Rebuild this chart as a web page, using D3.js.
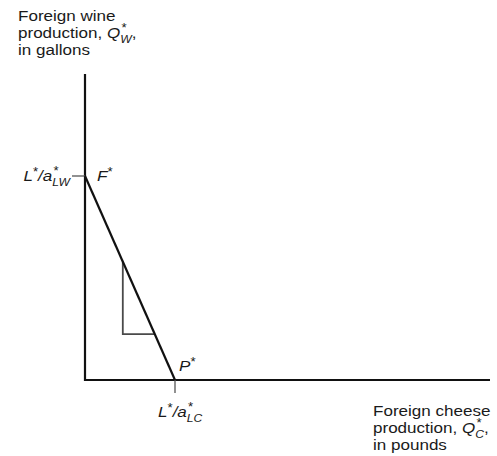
<!DOCTYPE html>
<html>
<head>
<meta charset="utf-8">
<script src="https://cdn.jsdelivr.net/npm/d3@7"></script>
<style>
  body { margin: 0; background: #fff; }
  svg text { font-family: "Liberation Sans", Arial, sans-serif; fill: #1a1a1a; }
</style>
</head>
<body>
<div id="chart"></div>
<script>
(function () {

    // foreign PPF, both intercepts scaled to 1 (L*/a*_LC on x, L*/a*_LW on y)
    var axisMax = [4.5, 1.5];
    var ppf = [[0, 1], [1, 0]];
    // slope triangle under the line
    var triangle = [[0.42, 0.58], [0.42, 0.225], [0.775, 0.225]];

    var yTitle = [
        [{ t: 'Foreign wine' }],
        [{ t: 'production, ' }, { t: 'Q', i: true, sub: 'W', sup: '*' }, { t: ',' }],
        [{ t: 'in gallons' }]
    ];
    var xTitle = [
        [{ t: 'Foreign cheese' }],
        [{ t: 'production, ' }, { t: 'Q', i: true, sub: 'C', sup: '*' }, { t: ',' }],
        [{ t: 'in pounds' }]
    ];
    var yTickLabel = [{ t: 'L', i: true, sup: '*' }, { t: '/a', i: true, sub: 'LW', sup: '*' }];
    var xTickLabel = [{ t: 'L', i: true, sup: '*' }, { t: '/a', i: true, sub: 'LC', sup: '*' }];
    var pointLabels = [
        { name: 'F', at: ppf[0] },
        { name: 'P', at: ppf[1] }
    ];

    var width = 497, height = 456;

    var svg = d3.select('#chart')
        .append('svg')
        .attr('width', width)
        .attr('height', height);

    var x = d3.scaleLinear().domain([0, axisMax[0]]).range([85, 490]);
    var y = d3.scaleLinear().domain([0, axisMax[1]]).range([380, 74]);

    var line = d3.line()
        .x(d => x(d[0]))
        .y(d => y(d[1]));

    // axes
    svg.append('path')
        .attr('d', line([[0, axisMax[1]], [0, 0], [axisMax[0], 0]]))
        .attr('fill', 'none')
        .attr('stroke', '#111')
        .attr('stroke-width', 2.2);

    // intercept ticks
    svg.append('line')
        .attr('x1', x(0) - 13).attr('x2', x(0))
        .attr('y1', y(ppf[0][1])).attr('y2', y(ppf[0][1]))
        .attr('stroke', '#555').attr('stroke-width', 1.3);

    svg.append('line')
        .attr('x1', x(ppf[1][0])).attr('x2', x(ppf[1][0]))
        .attr('y1', y(0)).attr('y2', y(0) + 13)
        .attr('stroke', '#555').attr('stroke-width', 1.3);

    // triangle
    svg.append('path')
        .attr('d', line(triangle))
        .attr('fill', 'none')
        .attr('stroke', '#4a4a4a')
        .attr('stroke-width', 1.8);

    // PPF
    svg.append('path')
        .attr('d', line(ppf))
        .attr('fill', 'none')
        .attr('stroke', '#111')
        .attr('stroke-width', 2.2);

    // rich text: sub/sup stacked after a part, offsets carried to the next tspan
    var rich = function (px, py, parts, anchor) {
        var t = svg.append('text')
            .attr('transform', 'translate(' + px + ',' + py + ') scale(1.1,1)')
            .attr('font-size', 15.5)
            .attr('text-anchor', anchor || 'start');

        var shift = 0, dxNext = 0;

        parts.forEach(p => {
            t.append('tspan')
                .attr('font-style', p.i ? 'italic' : 'normal')
                .attr('dx', dxNext || null)
                .attr('dy', -shift || null)
                .text(p.t);
            shift = 0;
            dxNext = 0;

            var subLen = 0;
            if (p.sub) {
                var s = t.append('tspan')
                    .attr('dy', 4.5)
                    .attr('font-size', 11)
                    .attr('font-style', 'italic')
                    .text(p.sub);
                subLen = s.node().getComputedTextLength();
                shift = 4.5;
            }
            if (p.sup) {
                var rise = p.sub ? -10.5 : -5;
                var u = t.append('tspan')
                    .attr('dy', rise)
                    .attr('font-size', 12)
                    .attr('font-style', 'normal')
                    .text(p.sup);
                shift += rise;
                if (p.sub) {
                    var supLen = u.node().getComputedTextLength();
                    u.attr('dx', -subLen + 1);
                    dxNext = subLen - supLen - 1;
                }
            }
        });
        return t;
    };

    yTitle.forEach((parts, i) => rich(18, 21 + i * 17, parts));
    xTitle.forEach((parts, i) => rich(373, 416 + i * 17, parts));

    rich(x(0) - 15, y(ppf[0][1]) + 5, yTickLabel, 'end');
    rich(x(ppf[1][0]) - 17, y(0) + 37, xTickLabel);

    pointLabels.forEach(d => {
        var px = d.name === 'F' ? x(d.at[0]) + 12 : x(d.at[0]) + 4;
        var py = d.name === 'F' ? y(d.at[1]) + 5 : y(d.at[1]) - 9;
        rich(px, py, [{ t: d.name, i: true, sup: '*' }]);
    });

})();
</script>
</body>
</html>
